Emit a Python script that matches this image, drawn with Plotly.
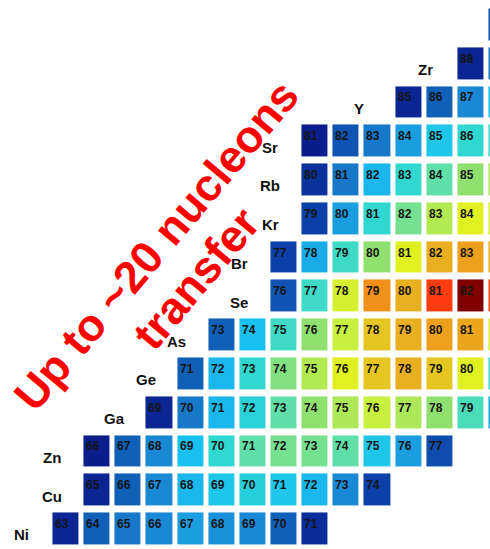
import plotly.graph_objects as go

# Element rows of the nuclide chart (proton number Z), lightest first
elements = ["Ni", "Cu", "Zn", "Ga", "Ge", "As", "Se", "Br", "Kr", "Rb", "Sr", "Y", "Zr", "Nb"]
proton_numbers = [28, 29, 30, 31, 32, 33, 34, 35, 36, 37, 38, 39, 40, 41]
# Lightest mass number shown in each row
first_mass = [63, 65, 66, 69, 71, 73, 76, 77, 79, 80, 81, 85, 88, 90]

# Relative transfer yield (0 = lowest, 1 = highest) for consecutive isotopes
yield_ni = [0.03, 0.18, 0.23, 0.27, 0.32, 0.29, 0.27, 0.18, 0.05]
yield_cu = [0.03, 0.18, 0.27, 0.38, 0.42, 0.45, 0.42, 0.38, 0.27, 0.10]
yield_zn = [0.01, 0.18, 0.27, 0.40, 0.48, 0.55, 0.58, 0.58, 0.55, 0.42, 0.32, 0.13]
yield_ga = [0.03, 0.23, 0.38, 0.46, 0.55, 0.62, 0.66, 0.70, 0.66, 0.62, 0.52, 0.35]
yield_ge = [0.18, 0.38, 0.48, 0.60, 0.67, 0.76, 0.80, 0.82, 0.80, 0.76, 0.50]
yield_as = [0.18, 0.40, 0.50, 0.62, 0.70, 0.80, 0.82, 0.85, 0.84, 0.74]
yield_se = [0.15, 0.50, 0.73, 0.88, 0.82, 0.94, 1.00, 0.93]
yield_br = [0.10, 0.35, 0.50, 0.62, 0.76, 0.82, 0.85, 0.82]
yield_kr = [0.10, 0.32, 0.48, 0.58, 0.67, 0.76, 0.74]
yield_rb = [0.06, 0.23, 0.38, 0.48, 0.55, 0.62, 0.66]
yield_sr = [0.01, 0.15, 0.23, 0.32, 0.42, 0.48, 0.50]
yield_y = [0.03, 0.18, 0.27, 0.40]
yield_zr = [0.03, 0.25]
yield_nb = [0.15]

yields = [yield_ni, yield_cu, yield_zn, yield_ga, yield_ge, yield_as, yield_se,
          yield_br, yield_kr, yield_rb, yield_sr, yield_y, yield_zr, yield_nb]

# Jet-like palette
palette = [
    [0.00, "#0a1a88"], [0.10, "#0c40a8"], [0.18, "#1060b8"], [0.25, "#1a80d0"],
    [0.32, "#1a9ee0"], [0.40, "#18c0f0"], [0.48, "#30d8d0"], [0.55, "#60e0a8"],
    [0.62, "#90e070"], [0.70, "#c8f040"], [0.76, "#e0f020"], [0.82, "#e8b020"],
    [0.88, "#f09018"], [0.94, "#ff3c10"], [1.00, "#800000"],
]

# Grid indexed by neutron number N = A - Z
n_min = min(a - z for a, z in zip(first_mass, proton_numbers))
n_max = max(a - z + len(v) - 1 for a, z, v in zip(first_mass, proton_numbers, yields))
n_values = list(range(n_min, n_max + 1))
z_grid = [[None] * len(n_values) for _ in proton_numbers]

annotations = []
for row, (sym, z, a0, vals) in enumerate(zip(elements, proton_numbers, first_mass, yields)):
    for i, v in enumerate(vals):
        mass = a0 + i
        n = mass - z
        z_grid[row][n - n_min] = v
        annotations.append(dict(
            x=n, y=z, text=f"<b>{mass}</b>", showarrow=False,
            xshift=-4, yshift=5,
            font=dict(family="Liberation Sans, Arial, sans-serif", size=12, color="#151515"),
        ))
    annotations.append(dict(
        x=a0 - z, y=z, text=f"<b>{sym}</b>", showarrow=False,
        xshift=-45 if len(sym) > 1 else -50, yshift=-6,
        font=dict(family="Liberation Sans, Arial, sans-serif", size=15, color="#111111"),
    ))

# Headline text across the chart
for label, px, py in [("Up to ~20 nucleons", 156, 245), ("transfer", 196, 278)]:
    annotations.append(dict(
        x=px / 490, y=1 - py / 549, xref="paper", yref="paper",
        xanchor="center", yanchor="middle",
        text=f"<b>{label}</b>", showarrow=False, textangle=-50,
        font=dict(family="Liberation Sans, Arial, sans-serif", size=45, color="#ff0000"),
    ))

fig = go.Figure(go.Heatmap(
    x=n_values, y=proton_numbers, z=z_grid,
    colorscale=palette, zmin=0, zmax=1, showscale=False,
    xgap=5, ygap=7, hoverinfo="skip",
))

fig.update_layout(
    width=490, height=549, autosize=False,
    margin=dict(l=0, r=0, t=0, b=0),
    paper_bgcolor="white", plot_bgcolor="white",
    xaxis=dict(range=[32.881, 48.612], visible=False, fixedrange=True),
    yaxis=dict(range=[27.484, 41.64], visible=False, fixedrange=True),
    annotations=annotations,
    showlegend=False,
)

fig.write_html("out.html")
